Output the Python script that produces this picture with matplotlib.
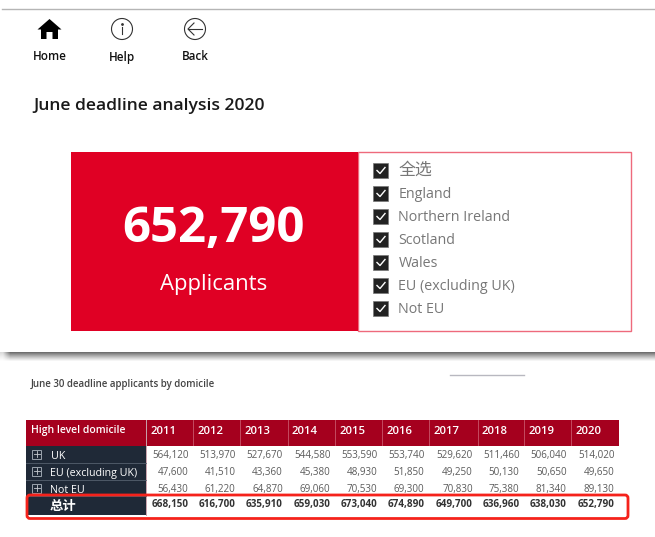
import numpy as np
import matplotlib
matplotlib.use('Agg')
import matplotlib.pyplot as plt
from matplotlib.patches import Rectangle, Circle, Polygon, FancyBboxPatch

plt.rcParams['font.family'] = ['Open Sans', 'Noto Sans CJK SC', 'DejaVu Sans']

nav_labels = ['Home', 'Help', 'Back']
page_title = 'June deadline analysis 2020'
kpi_value = '652,790'
kpi_label = 'Applicants'
filter_items = ['全选', 'England', 'Northern Ireland', 'Scotland', 'Wales', 'EU (excluding UK)', 'Not EU']
table_title = 'June 30 deadline applicants by domicile'
years = ['2011', '2012', '2013', '2014', '2015', '2016', '2017', '2018', '2019', '2020']
row_labels = ['UK', 'EU (excluding UK)', 'Not EU']
uk = [564120, 513970, 527670, 544580, 553590, 553740, 529620, 511460, 506040, 514020]
eu = [47600, 41510, 43360, 45380, 48930, 51850, 49250, 50130, 50650, 49650]
not_eu = [56430, 61220, 64870, 69060, 70530, 69300, 70830, 75380, 81340, 89130]
total_label = '总计'
totals = [668150, 616700, 635910, 659030, 673040, 674890, 649700, 636960, 638030, 652790]

RED = '#e00024'
HEADER = '#a5001e'
DARK = '#1f2937'

fig = plt.figure(figsize=(6.55, 5.37), dpi=100)
ax = fig.add_axes([0, 0, 1, 1])
ax.set_xlim(0, 655)
ax.set_ylim(537, 0)
ax.axis('off')

# top rule
ax.plot([2, 655], [8.5, 8.5], color='#b5b5b5', lw=1)

# nav icons
ax.add_patch(Polygon([(37.5, 29.5), (49.5, 19), (61.5, 29.5), (58, 29.5), (58, 39), (52.5, 39), (52.5, 32),
                      (46.5, 32), (46.5, 39), (41, 39), (41, 29.5)], color='black', lw=0))
ax.add_patch(Circle((122, 29), 10.5, fc='white', ec='#333333', lw=0.8))
ax.plot([122, 122], [27, 34], color='#333333', lw=0.8)
ax.plot([122], [24], 'o', color='#333333', ms=1)
ax.add_patch(Circle((195, 29), 10.5, fc='white', ec='#333333', lw=0.8))
ax.plot([188, 202], [29, 29], color='#333333', lw=0.8)
ax.plot([194, 188, 194], [23, 29, 35], color='#333333', lw=0.8)
for cx, lab in zip([49.5, 122, 195], nav_labels):
    ax.text(cx, 60.5, lab, ha='center', va='baseline', fontsize=8.4, fontweight='semibold', color='#111111')

ax.text(33, 110.5, page_title, ha='left', va='baseline', fontsize=12.6, fontweight='semibold', color='#1a1a1a')

# kpi card
ax.add_patch(Rectangle((358, 152), 273, 179, fc='white', ec='#ee6a7c', lw=1))
ax.add_patch(Rectangle((71, 152), 287, 179, fc=RED, ec='none'))
ax.text(214, 242, kpi_value, ha='center', va='baseline', fontsize=35.4, fontweight='bold', color='white')
ax.text(214, 290, kpi_label, ha='center', va='baseline', fontsize=15.9, fontweight='medium', color='white')

# slicer
for i, lab in enumerate(filter_items):
    y = 170 + i * 23
    ax.add_patch(Rectangle((373, y - 7.5), 15, 15.5, fc='#222222', ec='#777777', lw=0.5))
    ax.plot([377, 380, 385], [y + 0.5, y + 3.5, y - 2.5], color='white', lw=1)
    ax.text(398.5, y + 5 if i == 0 else y + 5.2, lab, ha='left', va='baseline',
            fontsize=12.2 if i == 0 else 10.3, color='#777777')

# shadow under the top panel, fading off at the left end
fade_y = 1 - np.linspace(0.62, 0, 10)[:, None] ** 1.2
fade_x = np.clip(np.arange(655) / 10, 0.25, 1)[None, :]
ax.imshow(1 - (1 - fade_y) * fade_x, extent=(0, 655, 362, 352), cmap='gray', vmin=0, vmax=1, aspect='auto', zorder=1)
ax.set_xlim(0, 655)
ax.set_ylim(537, 0)
ax.plot([450, 524], [374.5, 374.5], color='#b8b8c0', lw=1)

ax.text(31, 387.5, table_title, ha='left', va='baseline', fontsize=7.0, fontweight='semibold', color='#444444')

# table
col_edges = [146, 193, 240, 287.5, 335, 382, 429, 477.5, 524, 571, 619]
row_y = [454, 471, 488]
ax.add_patch(Rectangle((26, 420), 593, 25.5, fc=HEADER, ec='none'))
ax.add_patch(Rectangle((26, 445.5), 120, 69.5, fc=DARK, ec='none'))
ax.plot([146, 146], [420, 515], color='#c9a3ad', lw=0.7)
for x in col_edges[1:-1]:
    ax.plot([x, x], [420, 445], color='#c9576b', lw=0.6)
ax.text(31, 433.5, 'High level domicile', ha='left', va='baseline', fontsize=7.45, fontweight='semibold', color='white')
for i, yr in enumerate(years):
    ax.text(col_edges[i] + 4.5, 433.5, yr, ha='left', va='baseline', fontsize=8.2, fontweight='semibold', color='white')

for y in [462.5, 479.5, 496]:
    ax.plot([26, 146], [y, y], color='#55606e', lw=0.6)

for y, lab, vals in zip(row_y, row_labels, [uk, eu, not_eu]):
    ax.add_patch(Rectangle((32, y - 4.5), 9, 9, fc=DARK, ec='#9aa3ad', lw=0.7))
    ax.plot([33.5, 39.5], [y, y], color='#c8ccd2', lw=0.6)
    ax.plot([36.5, 36.5], [y - 3, y + 3], color='#c8ccd2', lw=0.6)
    ax.text(50.5, y + 5, lab, ha='left', va='baseline', fontsize=7.7, fontweight='medium', color='white')
    for i, v in enumerate(vals):
        ax.text(col_edges[i + 1] - 4.5, y + 4, f'{v:,}', ha='right', va='baseline', fontsize=7.1, color='#5c5c5c')

ax.text(50, 510, total_label, ha='left', va='baseline', fontsize=9.6, fontweight='bold', color='white')
for i, v in enumerate(totals):
    ax.text(col_edges[i + 1] - 4.5, 507.5, f'{v:,}', ha='right', va='baseline', fontsize=7.1, fontweight='bold', color='#333333')

# red highlight around the total row
ax.add_patch(FancyBboxPatch((27, 495), 601, 23.5, boxstyle='round,pad=0,rounding_size=3',
                            fc='none', ec='#f5221b', lw=2, zorder=5))

fig.savefig('out.png', dpi=100)
